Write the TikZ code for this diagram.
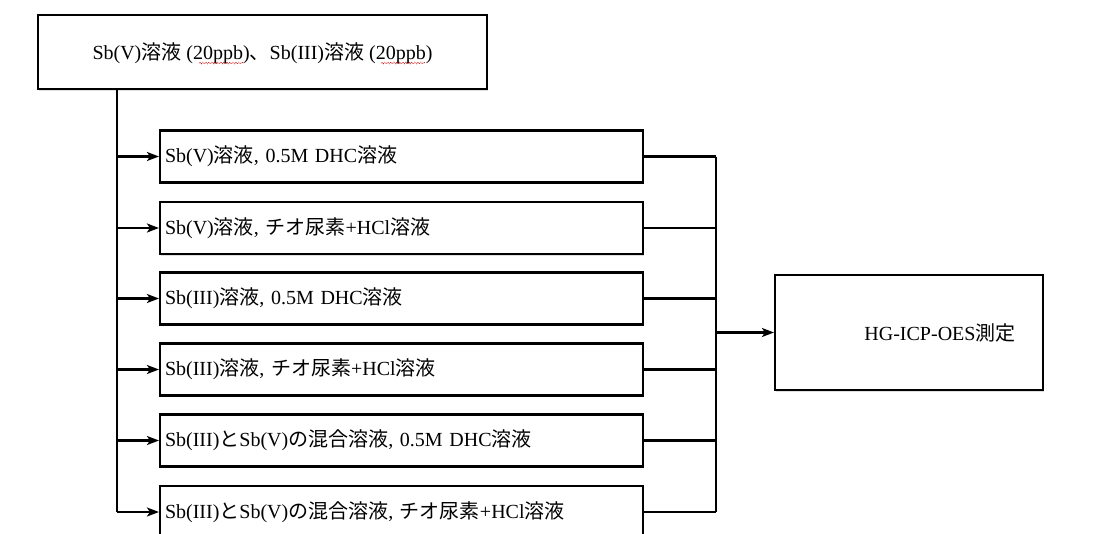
\documentclass[tikz,border=0pt]{standalone}
\usepackage{fontspec}
\setmainfont{Liberation Serif}
\newfontfamily\cjk{Noto Sans CJK JP}
\newcommand{\jp}[1]{{\cjk #1}}
\usetikzlibrary{arrows.meta,shadows,decorations.pathmorphing}
\begin{document}
\begin{tikzpicture}[x=1pt,y=-1pt,
  font=\fontsize{20}{22}\selectfont,
  box/.style={draw=black,line width=2.1pt,fill=white,inner sep=0pt,
    drop shadow={shadow xshift=1.2pt,shadow yshift=-1.5pt,opacity=0.25}},
  stepbox/.style={box,minimum width=483pt,minimum height=52pt,
    text width=473pt,align=left},
  conn/.style={line width=2.1pt},
  arr/.style={conn,-{Stealth[length=12pt,width=9pt,inset=3pt]}},
  squig/.style={red!80!black,line width=0.7pt,densely dotted,
    decorate,decoration={snake,amplitude=0.8pt,segment length=3pt}}]
\useasboundingbox (0,0) rectangle (1094,533);
\fill[white] (0,0) rectangle (1094,533);
\begin{scope}
\clip (0,0) rectangle (1094,533);
\node[box,minimum width=449pt,minimum height=74pt,text height=17pt,text depth=3pt] (top) at (262.5,52)
  {Sb(V)\jp{溶液} (20ppb)\jp{、}Sb(III)\jp{溶液} (20ppb)};
\node[stepbox] (b1) at (401.5,156.5) {Sb(V)\jp{溶液}, 0.5M DHC\jp{溶液}};
\node[stepbox] (b2) at (401.5,228) {Sb(V)\jp{溶液}, \jp{チオ尿素}+HCl\jp{溶液}};
\node[stepbox] (b3) at (401.5,298.5) {Sb(III)\jp{溶液}, 0.5M DHC\jp{溶液}};
\node[stepbox] (b4) at (401.5,369.5) {Sb(III)\jp{溶液}, \jp{チオ尿素}+HCl\jp{溶液}};
\node[stepbox] (b5) at (401.5,440.5) {Sb(III)\jp{と}Sb(V)\jp{の混合溶液}, 0.5M DHC\jp{溶液}};
\node[stepbox] (b6) at (401.5,512) {Sb(III)\jp{と}Sb(V)\jp{の混合溶液}, \jp{チオ尿素}+HCl\jp{溶液}};
\node[box,minimum width=268pt,minimum height=115pt] (res) at (909,332.5) {};
\node (restext) at (940,333) {HG-ICP-OES\jp{測定}};
\coordinate (spine) at (117,0);
\coordinate (bus) at (716,0);
\draw[conn] (spine |- top.south) -- (spine |- b6.west);
\foreach \b in {b1,b2,b3,b4,b5,b6}{
  \draw[arr] (spine |- \b.west) -- (\b.west);
  \draw[conn] (\b.east) -- (bus |- \b.east);
}
\draw[conn] (bus |- b1.east) -- (bus |- b6.east);
\draw[arr] (bus |- res.west) -- (res.west);
\draw[squig] (199,63) -- (243,63);
\draw[squig] (381,63) -- (425,63);
\end{scope}
\end{tikzpicture}
\end{document}
